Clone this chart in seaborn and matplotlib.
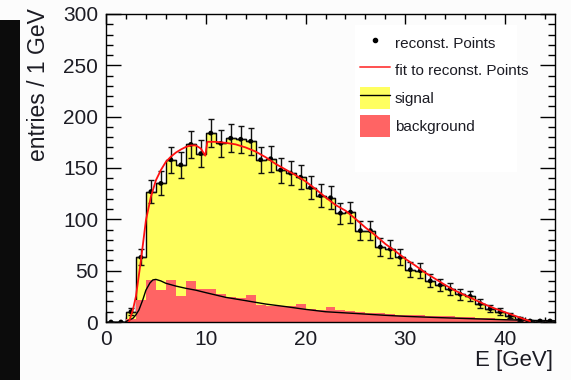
import numpy as np
import pandas as pd
import matplotlib
matplotlib.use("Agg")
import matplotlib.pyplot as plt
import seaborn as sns
from matplotlib.lines import Line2D
from matplotlib.patches import Patch, Rectangle
from matplotlib.ticker import MultipleLocator

# ---------------- data ----------------
bin_edges = list(range(0, 46))          # 1 GeV bins, 0..45 GeV
bin_centers = [i + 0.5 for i in range(45)]

data_counts = [0, 0, 10, 63, 127, 135, 158, 153, 173, 164,
               184, 174, 179, 178, 176, 158, 159, 148, 145, 141,
               131, 123, 121, 106, 107, 89, 89, 73, 71, 63,
               51, 50, 40, 36, 32, 27, 25, 18, 13, 10,
               6, 3, 1, 1, 1]

background_counts = [0, 0, 3, 21, 41, 31, 41, 25, 40, 32,
                     32, 27, 24, 23, 26, 17, 16, 16, 16, 18,
                     13, 12, 15, 12, 11, 9.5, 9, 8.5, 8, 7,
                     7, 6.5, 6, 6, 5.5, 5, 5, 4, 4, 3,
                     3, 2.5, 2, 1.5, 1]

fit_x = [2.3, 2.7, 3.0, 3.5, 4.0, 4.5, 5.0, 5.5, 6.0, 6.5, 7.0, 7.5, 8.0, 8.5,
         9.0, 9.5, 9.95, 10.15, 11, 12, 13, 14, 15, 16, 17, 18, 19, 20, 21, 22,
         23, 24, 25, 26, 27, 28, 29, 30, 31, 32, 33, 34, 35, 36, 37, 38, 39, 40,
         41, 42, 42.5]
fit_y = [0, 12, 25, 60, 99, 122, 138, 148, 156, 161, 165, 168, 170.5, 172,
         172, 169, 162, 175.5, 175.5, 174.5, 173, 170, 166, 160.5, 154, 148.5, 143, 137, 129.5, 121.5,
         114, 108.5, 100.5, 92, 84.5, 76, 69, 61.5, 55, 48, 42, 36, 30.5, 26, 21.5, 17, 13, 9.5,
         6, 2.5, 0.8]

bkg_fit_x = [2.0, 2.7, 3.0, 3.3, 3.7, 4.0, 4.4, 4.7, 5.0, 5.5, 6, 7, 8, 9, 10, 12, 14,
             16, 18, 20, 22, 25, 28, 30, 33, 36, 40, 43, 45]
bkg_fit_y = [0.5, 3.6, 7, 11.7, 22, 31, 38, 41, 41.5, 40, 37.7, 35, 32.8, 31, 28.6, 24, 20.8,
             17.5, 15, 12.3, 10, 8.3, 6.5, 5.5, 4.4, 3.4, 2.2, 1.5, 1.2]

legend_labels = ["reconst. Points", "fit to reconst. Points", "signal", "background"]

# ---------------- style ----------------
sns.set_style("ticks")
plt.rcParams['font.family'] = ['Liberation Sans', 'DejaVu Sans']

YELLOW = '#ffff60'
RED_FILL = '#ff6464'
BG = '#fcfcfc'
TXT = '#1c1c24'

fig = plt.figure(figsize=(5.71, 3.80), dpi=100, facecolor=BG)
# dark strip at the left edge of the screenshot
fig.patches.append(Rectangle((0, 0), 20 / 571, 360 / 380, transform=fig.transFigure,
                             facecolor='#0c0c0c', edgecolor='none', zorder=0))

ax = fig.add_axes([106 / 571, 1 - 322 / 380, 449 / 571, 308 / 380])
ax.set_facecolor(BG)

df = pd.DataFrame({'E': bin_centers, 'data': data_counts, 'bkg': background_counts})

sns.histplot(data=df, x='E', weights='data', bins=bin_edges, element='step', fill=True,
             color=YELLOW, alpha=1, edgecolor='black', linewidth=1.0, ax=ax, zorder=1)
sns.histplot(data=df, x='E', weights='bkg', bins=bin_edges, element='step', fill=True,
             color=RED_FILL, alpha=1, linewidth=0, ax=ax, zorder=2)

yerr = np.sqrt(np.array(data_counts, dtype=float))
ax.errorbar(bin_centers, data_counts, yerr=yerr, fmt='none', ecolor='#111111',
            elinewidth=1.0, capsize=2.2, capthick=1.0, zorder=4)
ax.errorbar(bin_centers, data_counts, xerr=0.5, fmt='none', ecolor='#111111',
            elinewidth=1.0, capsize=0, zorder=4)
sns.scatterplot(x=bin_centers, y=data_counts, color='black', s=12, edgecolor='none',
                ax=ax, zorder=5, legend=False)

sns.lineplot(x=bkg_fit_x, y=bkg_fit_y, color='black', linewidth=1.0, ax=ax,
             estimator=None, sort=False, zorder=3)
sns.lineplot(x=fit_x, y=fit_y, color='#ff1010', linewidth=1.3, ax=ax,
             estimator=None, sort=False, zorder=6)

ax.set_xlim(0, 45)
ax.set_ylim(0, 300)

ax.xaxis.set_major_locator(MultipleLocator(10))
ax.xaxis.set_minor_locator(MultipleLocator(2))
ax.yaxis.set_major_locator(MultipleLocator(50))
ax.yaxis.set_minor_locator(MultipleLocator(10))
ax.tick_params(which='both', direction='in', top=True, right=True,
               labelsize=15, pad=5.5, labelcolor=TXT, color='black', width=1.0)
ax.tick_params(axis='y', which='major', length=11)
ax.tick_params(axis='y', which='minor', length=5)
ax.tick_params(axis='x', which='major', length=7)
ax.tick_params(axis='x', which='minor', length=3.6)
for s in ax.spines.values():
    s.set_color('black')
    s.set_linewidth(1.0)

ax.set_ylabel("entries / 1 GeV", fontsize=16.5, color=TXT, loc='top')
ax.yaxis.set_label_coords(-0.124, 1.02)
ax.set_xlabel("E [GeV]", fontsize=16, color=TXT, loc='right')
ax.xaxis.set_label_coords(0.9955, -0.09)

# legend box
ax.add_patch(Rectangle(((355 - 106) / 449, (322 - 172) / 308), 162 / 449, 147 / 308,
                       transform=ax.transAxes, facecolor='white', edgecolor='none', zorder=7))
handles = [
    Line2D([], [], marker='o', markersize=3, color='black', linestyle='none'),
    Line2D([], [], color='#ff5050', linewidth=1.4),
    (Patch(facecolor=YELLOW, edgecolor='none'), Line2D([], [], color='black', linewidth=1.0)),
    Patch(facecolor=RED_FILL, edgecolor='none'),
]
leg = ax.legend(handles, legend_labels, loc='upper left',
                bbox_to_anchor=((360 - 106) / 449, (322 - 31.5) / 308),
                frameon=False, fontsize=11, borderpad=0, borderaxespad=0,
                handlelength=1.96, handleheight=1.86, handletextpad=0.33,
                labelspacing=0.36)
leg.set_zorder(8)
for t in leg.get_texts():
    t.set_color(TXT)

fig.savefig("out.png", dpi=100, facecolor=BG)
